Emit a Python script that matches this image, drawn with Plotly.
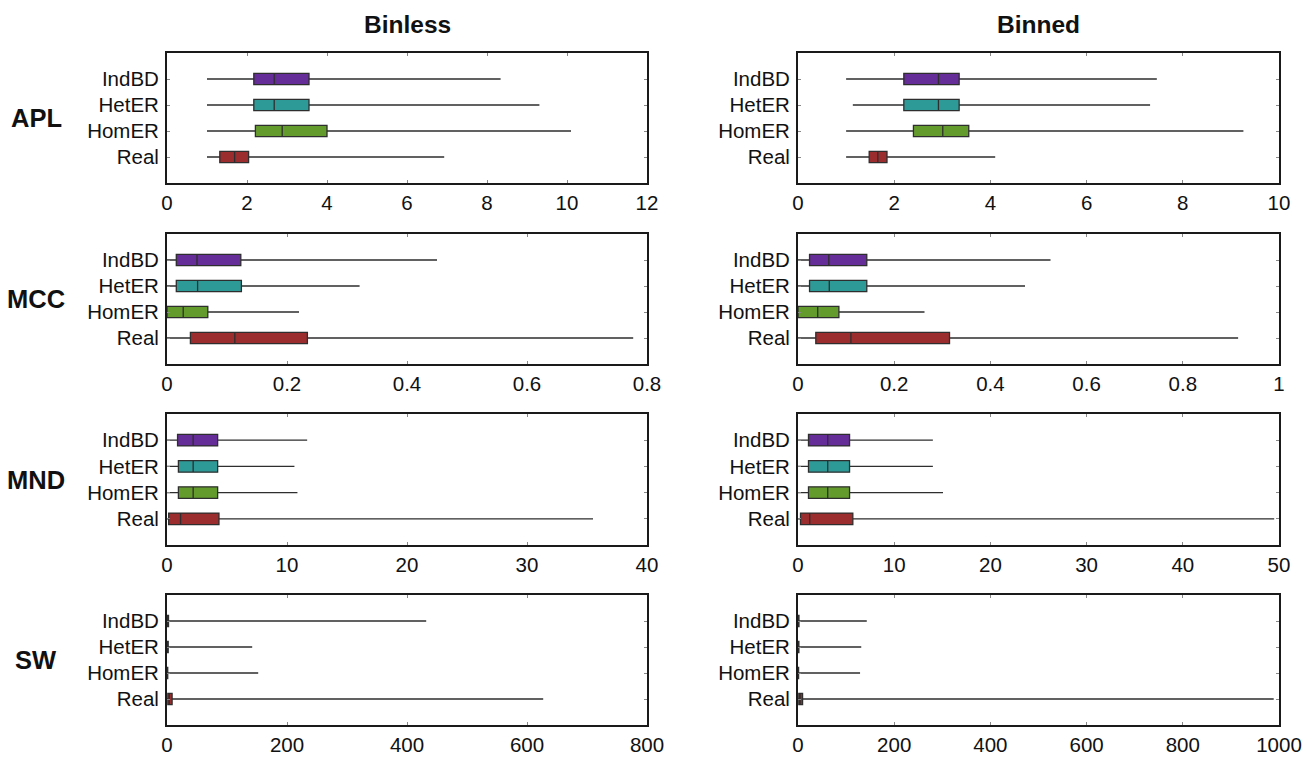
import plotly.graph_objects as go
from plotly.subplots import make_subplots

categories = ["IndBD", "HetER", "HomER", "Real"]
colors = ["#652d98", "#2e9a98", "#649b2d", "#9b2d2e"]
metrics = ["APL", "MCC", "MND", "SW"]
methods = ["Binless", "Binned"]

# stats per metric per method: lists in category order IndBD, HetER, HomER, Real
# Binless
apl_binless_low = [1.0, 1.0, 1.0, 1.0]
apl_binless_q1 = [2.17, 2.17, 2.21, 1.32]
apl_binless_med = [2.68, 2.68, 2.88, 1.69]
apl_binless_q3 = [3.55, 3.55, 4.0, 2.04]
apl_binless_high = [8.34, 9.31, 10.1, 6.93]

mcc_binless_low = [0.0, 0.0, 0.0, 0.0]
mcc_binless_q1 = [0.0155, 0.0155, 0.0, 0.039]
mcc_binless_med = [0.05, 0.051, 0.027, 0.113]
mcc_binless_q3 = [0.123, 0.124, 0.068, 0.234]
mcc_binless_high = [0.45, 0.321, 0.22, 0.777]

mnd_binless_low = [0.0, 0.0, 0.0, 0.0]
mnd_binless_q1 = [0.88, 0.95, 0.95, 0.14]
mnd_binless_med = [2.18, 2.18, 2.18, 1.13]
mnd_binless_q3 = [4.22, 4.22, 4.22, 4.33]
mnd_binless_high = [11.68, 10.62, 10.87, 35.5]

sw_binless_low = [0.0, 0.0, 0.0, 0.0]
sw_binless_q1 = [0.3, 0.3, 0.2, 1.4]
sw_binless_med = [1.0, 1.0, 0.6, 4.0]
sw_binless_q3 = [2.5, 2.0, 1.2, 8.5]
sw_binless_high = [432, 142, 152, 627]

# Binned
apl_binned_low = [1.0, 1.14, 1.0, 1.0]
apl_binned_q1 = [2.2, 2.2, 2.4, 1.48]
apl_binned_med = [2.92, 2.92, 3.01, 1.66]
apl_binned_q3 = [3.35, 3.35, 3.55, 1.85]
apl_binned_high = [7.46, 7.32, 9.26, 4.1]

mcc_binned_low = [0.0, 0.0, 0.0, 0.0]
mcc_binned_q1 = [0.024, 0.024, 0.0, 0.037]
mcc_binned_med = [0.064, 0.065, 0.041, 0.11]
mcc_binned_q3 = [0.143, 0.143, 0.085, 0.315]
mcc_binned_high = [0.525, 0.472, 0.263, 0.915]

mnd_binned_low = [0.0, 0.0, 0.0, 0.0]
mnd_binned_q1 = [1.09, 1.09, 1.09, 0.26]
mnd_binned_med = [3.09, 3.09, 3.09, 1.22]
mnd_binned_q3 = [5.36, 5.36, 5.36, 5.7]
mnd_binned_high = [14.02, 14.02, 15.07, 49.5]

sw_binned_low = [0.0, 0.0, 0.0, 0.0]
sw_binned_q1 = [0.3, 0.3, 0.2, 1.7]
sw_binned_med = [1.0, 1.0, 0.6, 4.5]
sw_binned_q3 = [2.0, 1.8, 1.2, 9.5]
sw_binned_high = [143, 131.5, 129, 989]

x_ranges_binless = [[0, 12], [0, 0.8], [0, 40], [0, 800]]
x_dticks_binless = [2, 0.2, 10, 200]
x_ranges_binned = [[0, 10], [0, 1], [0, 50], [0, 1000]]
x_dticks_binned = [2, 0.2, 10, 200]

stats = {
    ("APL", "Binless"): (apl_binless_low, apl_binless_q1, apl_binless_med, apl_binless_q3, apl_binless_high),
    ("MCC", "Binless"): (mcc_binless_low, mcc_binless_q1, mcc_binless_med, mcc_binless_q3, mcc_binless_high),
    ("MND", "Binless"): (mnd_binless_low, mnd_binless_q1, mnd_binless_med, mnd_binless_q3, mnd_binless_high),
    ("SW", "Binless"): (sw_binless_low, sw_binless_q1, sw_binless_med, sw_binless_q3, sw_binless_high),
    ("APL", "Binned"): (apl_binned_low, apl_binned_q1, apl_binned_med, apl_binned_q3, apl_binned_high),
    ("MCC", "Binned"): (mcc_binned_low, mcc_binned_q1, mcc_binned_med, mcc_binned_q3, mcc_binned_high),
    ("MND", "Binned"): (mnd_binned_low, mnd_binned_q1, mnd_binned_med, mnd_binned_q3, mnd_binned_high),
    ("SW", "Binned"): (sw_binned_low, sw_binned_q1, sw_binned_med, sw_binned_q3, sw_binned_high),
}

FONT = "Arial, 'Liberation Sans', sans-serif"
W, H = 1316, 768
SY = H / 758.0  # vertical compensation: targets given in 758-tall picture coords
col_px = [(167, 647), (798, 1279)]
row_px = [(52, 182), (233, 363), (413, 544), (594, 724)]
row_px = [(a * SY, b * SY) for a, b in row_px]
ml, mr = 167, W - 1279
mt, mb = 52 * SY, H - 724 * SY
pw, ph = W - ml - mr, H - mt - mb

fig = make_subplots(rows=4, cols=2)

for r, metric in enumerate(metrics):
    for c, method in enumerate(methods):
        low, q1, med, q3, high = stats[(metric, method)]
        for i, cat in enumerate(categories):
            fig.add_trace(go.Box(
                y=[cat], q1=[q1[i]], median=[med[i]], q3=[q3[i]],
                lowerfence=[low[i]], upperfence=[high[i]],
                orientation="h", width=0.44, whiskerwidth=0,
                fillcolor=colors[i],
                line=dict(color="#2e2e2e", width=1.3),
                boxpoints=False, showlegend=False, hoverinfo="skip",
            ), row=r + 1, col=c + 1)
        xr = x_ranges_binless[r] if c == 0 else x_ranges_binned[r]
        xd = x_dticks_binless[r] if c == 0 else x_dticks_binned[r]
        x0, x1 = col_px[c]
        y0, y1 = row_px[r]
        fig.update_xaxes(
            range=xr, dtick=xd, tick0=0,
            domain=[(x0 - ml) / pw, (x1 - ml) / pw],
            showgrid=False, zeroline=False,
            showline=True, linewidth=2, linecolor="#1a1a1a", mirror="allticks",
            ticks="inside", ticklen=3, tickcolor="#888",
            ticklabelstandoff=0,
            tickfont=dict(family=FONT, size=20.5, color="#111"),
            row=r + 1, col=c + 1)
        fig.update_yaxes(
            type="category", categoryorder="array",
            categoryarray=categories[::-1], range=[-1, 4],
            domain=[max(0, 1 - (y1 - mt) / ph), min(1, 1 - (y0 - mt) / ph)],
            showgrid=False, zeroline=False,
            showline=True, linewidth=2, linecolor="#1a1a1a", mirror="allticks",
            ticks="inside", ticklen=3, tickcolor="#888",
            ticklabelstandoff=2,
            tickfont=dict(family=FONT, size=20.5, color="#111"),
            row=r + 1, col=c + 1)

annotations = []
for c, method in enumerate(methods):
    x0, x1 = col_px[c]
    annotations.append(dict(
        text="<b>%s</b>" % method, x=((x0 + x1) / 2 - ml) / pw,
        y=1 + (mt - 23 * SY) / ph,
        xref="paper", yref="paper", xanchor="center", yanchor="middle",
        showarrow=False, font=dict(family=FONT, size=24.5, color="#111")))
for r, metric in enumerate(metrics):
    y0, y1 = row_px[r]
    annotations.append(dict(
        text="<b>%s</b>" % metric, x=(36 - ml) / pw,
        y=1 - ((y0 + y1) / 2 - mt) / ph,
        xref="paper", yref="paper", xanchor="center", yanchor="middle",
        showarrow=False, font=dict(family=FONT, size=25.5, color="#111")))

fig.update_layout(
    width=W, height=H,
    margin=dict(l=ml, r=mr, t=mt, b=mb),
    paper_bgcolor="white", plot_bgcolor="white",
    annotations=annotations,
    font=dict(family=FONT),
)

post_js = (
    "document.documentElement.style.margin='0';"
    "document.body.style.margin='0';"
    "document.body.style.overflow='hidden';"
    "var gd=document.getElementsByClassName('plotly-graph-div')[0];"
    "if(gd&&gd.parentElement){gd.parentElement.style.width='%dpx';"
    "gd.parentElement.style.height='%dpx';gd.parentElement.style.overflow='hidden';}"
) % (W, H)

fig.write_html("out.html", post_script=post_js, config={"displayModeBar": False})
